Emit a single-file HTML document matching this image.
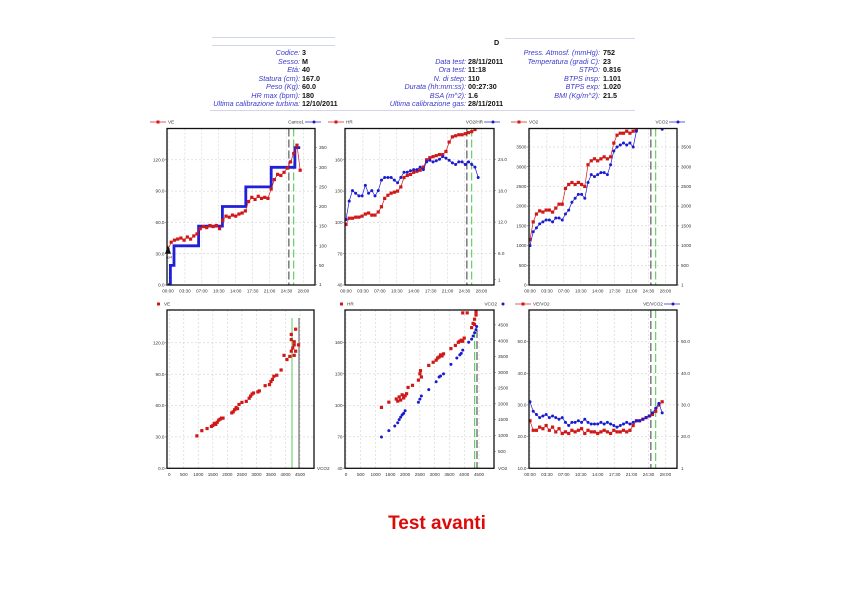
<!DOCTYPE html>
<html><head><meta charset="utf-8">
<style>
html,body{margin:0;padding:0;background:#fff;}
#wrap{position:relative;width:842px;height:595px;overflow:hidden;background:#fff;font-family:"Liberation Sans",sans-serif;}
.lab{position:absolute;font-size:7.2px;font-style:italic;color:#3a3acc;text-align:right;white-space:nowrap;line-height:8px;}
.val{position:absolute;font-size:7.2px;font-weight:bold;color:#111;white-space:nowrap;line-height:8px;}
.hl{position:absolute;height:1px;background:#d3d6ea;}
svg text{font-family:"Liberation Sans",sans-serif;}
</style></head>
<body>
<div id="wrap">
  <div class="hl" style="left:212px;top:37px;width:123px"></div>
  <div class="hl" style="left:212px;top:45px;width:123px"></div>
  <div class="hl" style="left:505px;top:38px;width:130px"></div>
  <div class="hl" style="left:210px;top:110px;width:425px"></div>
  <div class="val" style="left:494px;top:39px">D</div>

  <div class="lab" style="right:542px;top:49px">Codice:</div><div class="val" style="left:302px;top:49px">3</div>
  <div class="lab" style="right:542px;top:57.5px">Sesso:</div><div class="val" style="left:302px;top:57.5px">M</div>
  <div class="lab" style="right:542px;top:66px">Età:</div><div class="val" style="left:302px;top:66px">40</div>
  <div class="lab" style="right:542px;top:74.6px">Statura (cm):</div><div class="val" style="left:302px;top:74.6px">167.0</div>
  <div class="lab" style="right:542px;top:83.2px">Peso (Kg):</div><div class="val" style="left:302px;top:83.2px">60.0</div>
  <div class="lab" style="right:542px;top:91.7px">HR max (bpm):</div><div class="val" style="left:302px;top:91.7px">180</div>
  <div class="lab" style="right:542px;top:100.3px">Ultima calibrazione turbina:</div><div class="val" style="left:302px;top:100.3px">12/10/2011</div>

  <div class="lab" style="right:376px;top:57.5px">Data test:</div><div class="val" style="left:468px;top:57.5px">28/11/2011</div>
  <div class="lab" style="right:376px;top:66px">Ora test:</div><div class="val" style="left:468px;top:66px">11:18</div>
  <div class="lab" style="right:376px;top:74.6px">N. di step:</div><div class="val" style="left:468px;top:74.6px">110</div>
  <div class="lab" style="right:376px;top:83.2px">Durata (hh:mm:ss):</div><div class="val" style="left:468px;top:83.2px">00:27:30</div>
  <div class="lab" style="right:376px;top:91.7px">BSA (m^2):</div><div class="val" style="left:468px;top:91.7px">1.6</div>
  <div class="lab" style="right:376px;top:100.3px">Ultima calibrazione gas:</div><div class="val" style="left:468px;top:100.3px">28/11/2011</div>

  <div class="lab" style="right:242px;top:49px">Press. Atmosf. (mmHg):</div><div class="val" style="left:603px;top:49px">752</div>
  <div class="lab" style="right:242px;top:57.5px">Temperatura (gradi C):</div><div class="val" style="left:603px;top:57.5px">23</div>
  <div class="lab" style="right:242px;top:66px">STPD:</div><div class="val" style="left:603px;top:66px">0.816</div>
  <div class="lab" style="right:242px;top:74.6px">BTPS insp:</div><div class="val" style="left:603px;top:74.6px">1.101</div>
  <div class="lab" style="right:242px;top:83.2px">BTPS exp:</div><div class="val" style="left:603px;top:83.2px">1.020</div>
  <div class="lab" style="right:242px;top:91.7px">BMI (Kg/m^2):</div><div class="val" style="left:603px;top:91.7px">21.5</div>

  <svg id="charts" width="842" height="595" style="position:absolute;left:0;top:0"></svg>

  <div style="position:absolute;left:337px;width:200px;top:513px;text-align:center;font-size:19px;font-weight:bold;color:#dd0a0a;">Test avanti</div>
</div>

<script>
// ---------- data ----------
const timeTicks = ["00:00","03:30","07:00","10:30","14:00","17:30","21:00","24:30","28:00"];
const timeTickSec = [0,210,420,630,840,1050,1260,1470,1680];
const T = [0,40,80,120,160,200,240,280,320,360,400,440,480,520,560,600,640,680,720,760,800,840,880,920,960,1000,1040,1080,1120,1160,1200,1240,1280,1320,1360,1400,1440,1480,1520,1560,1600,1640];
const T3 = [0,40,80,120,160,200,240,280,320,360,400,440,480,520,560,600,640,680,720,760,800,840,880,920,960,1000,1040,1080,1120,1160,1200,1240,1280,1320];
const thresholdTimes = [1500,1560];

// Panel 1
const veTime = [34,41,43,44,45,43,46,44,47,49,54,56,55,57,56,57,54,62,66,65,67,66,68,69,71,80,84,82,85,83,84,83,92,101,106,105,108,112,118,126,134,110];
const loadTimes = [0,30,75,380,675,965,1280,1575,1640];
const loads = [1,50,100,150,200,250,300,350];
const p1LeftTicks = [0,30,60,90,120];
const p1LeftLabels = ["0.0","30.0","60.0","90.0","120.0"];
const p1RightTicks = [1,50,100,150,200,250,300,350];

// Panel 2
const hrTime = [98,104,104,105,105,106,108,109,107,107,110,115,123,126,128,129,130,134,143,145,146,148,149,150,153,160,162,163,164,165,165,168,177,182,183,184,184,185,186,187,189,191];
const o2pulse = [12.5,16,18,17.5,17,17,19,17.5,18,17,18,20,20.5,20.5,20.5,20,19.5,20.5,21.5,21.5,21.8,22,22,22.5,22,23.5,23.8,23.5,23.7,24,24.5,24.2,23.8,23.3,23,23.5,23.5,23,23.5,23,22.5,20.5];
const hrTicks = [40,70,100,130,160];
const o2pTicks = [1,6,12,18,24];
const o2pLabels = ["1","6.0","12.0","18.0","24.0"];

// Panel 3
const vo2Time = [1150,1600,1800,1880,1850,1900,1900,1850,1950,2050,2050,2450,2550,2600,2550,2600,2550,2500,3050,3150,3200,3150,3200,3250,3200,3250,3600,3800,3850,3850,3900,3850,3900,3950];
const vco2Time = [1000,1350,1450,1550,1600,1650,1650,1600,1700,1700,1650,1800,1900,2100,2200,2300,2300,2200,2600,2800,2750,2800,2850,2850,2800,3050,3400,3500,3550,3600,3550,3600,3500,3900];
const vco2TailTime = [1640];
const vco2TailVal = [3950];
const gasTicks = [0,500,1000,1500,2000,2500,3000,3500];
const gasRightLabels = ["1","500","1000","1500","2000","2500","3000","3500"];

// Panel 4
const p4Vco2 = [950,1120,1300,1450,1500,1550,1600,1650,1700,1750,1800,1850,2150,2200,2250,2300,2350,2400,2500,2650,2750,2800,2850,2900,3050,3100,3300,3450,3500,3550,3600,3700,3850,3950,4050,4150,4200,4250,4300,4200,4300,4350,4200,4450,4300,4350];
const p4Ve = [31,36,38,40,41,43,42,44,46,47,48,48,53,54,56,58,57,61,63,64,67,69,71,72,73,74,79,80,83,85,88,89,94,108,104,107,112,115,118,123,121,133,128,118,108,112];
const xGasTicks = [0,500,1000,1500,2000,2500,3000,3500,4000,4500];
const p4Thresholds = [4225,4466];

// Panel 5
const p5Vo2Hr = [1200,1450,1700,1750,1800,1850,1900,1950,2000,2050,2100,2250,2450,2500,2520,2550,2800,2950,3050,3100,3150,3200,3250,3300,3550,3700,3800,3850,3900,3950,4000,3950,4100,4250,4300,4350,4400,4400,4350];
const p5Hr = [98,103,106,104,108,105,110,107,109,111,117,119,124,130,133,127,138,141,143,145,146,148,147,149,154,157,160,161,162,161,164,188,188,174,178,182,186,189,177];
const p5Vo2C = [1200,1450,1650,1750,1800,1850,1900,1950,2000,2450,2500,2550,2800,3050,3150,3200,3300,3550,3750,3850,3900,3950,4150,4250,4300,4350,4400,4420];
const p5Vco2 = [950,1150,1300,1400,1500,1580,1650,1700,1780,2050,2150,2250,2450,2700,2850,2880,2950,3250,3450,3550,3600,3700,3950,4050,4150,4250,4350,4450];
const p5RightTicks = [500,1000,1500,2000,2500,3000,3500,4000,4500];
const p5Thresholds = [4354,4432];

// Panel 6
const veVo2 = [25,22,22,23,22.5,23.5,22,23,21.5,22.5,21,21.5,21,22,21.5,22,22.5,21,22,21.5,21.5,21,21.5,22,21.5,21,22,21.5,21.5,22,21.5,22,23.5,25,25,25.5,26,26.5,27,28,30,31];
const veVco2 = [31,28,27,26,26.5,27,26,26.5,26,25.5,26,24.5,23.5,24.5,24.5,25,24.5,25.5,24.5,24,24,24,24.5,24,24.5,24,23.5,23,23.5,24,24.5,24,24.5,25,25,25.5,26,26.5,27.5,29,30.5,27.5];
const eqTicks = [10,20,30,40,50];
const eqLabels = ["10.0","20.0","30.0","40.0","50.0"];

// ---------- drawing ----------
const NS = "http://www.w3.org/2000/svg";
const svg = document.getElementById("charts");
const RED = "#d01818", BLUE = "#1a1ad0";
function mk(tag, attrs, parent){ const e=document.createElementNS(NS,tag); for(const k in attrs) e.setAttribute(k,attrs[k]); (parent||svg).appendChild(e); return e; }
function txt(x,y,s,anchor,parent,size,col){ const t=mk("text",{x:x,y:y,"font-size":size||4.6,"text-anchor":anchor||"start",fill:col||"#333"},parent); t.textContent=s; return t; }
function lin(x0,x1,d0,d1){ return v => x0+(v-d0)*(x1-x0)/(d1-d0); }

let clipN=0;
function panel(name, box){
  const g = mk("g",{});
  
  
  const id="clip"+(clipN++);
  const cp = mk("clipPath",{id:id},g);
  mk("rect",{x:box.x0,y:box.y0,width:box.x1-box.x0,height:box.y1-box.y0},cp);
  const inner = mk("g",{"clip-path":"url(#"+id+")"},g);
  return {g:g, inner:inner};
}
function grid(p, box, xs, ys){
  xs.forEach(x=>{ const l=mk("line",{x1:x,x2:x,y1:box.y0,y2:box.y1,stroke:"#c8c8c8","stroke-width":0.5,"stroke-dasharray":"2,2"},p.inner);
      });
  ys.forEach(y=>{ const l=mk("line",{x1:box.x0,x2:box.x1,y1:y,y2:y,stroke:"#c8c8c8","stroke-width":0.5,"stroke-dasharray":"2,2"},p.inner);
      });
}
function frame(p, box){
  const r=mk("rect",{x:box.x0,y:box.y0,width:box.x1-box.x0,height:box.y1-box.y0,fill:"none",stroke:"#111","stroke-width":1.3},p.g);
   
}
function vlines(p, box, xs){
  const cols=["#222","#30c030"];
  xs.forEach((x,i)=>{ const l=mk("line",{x1:x,x2:x,y1:box.y0,y2:box.y1,stroke:cols[i],"stroke-width":0.9,"stroke-dasharray":"8,3"},p.inner);
      });
}
function seriesLine(p, xs, ys, sx, sy, col, name){
  const pts = xs.map((v,i)=>sx(v).toFixed(1)+","+sy(ys[i]).toFixed(1)).join(" ");
  const l=mk("polyline",{points:pts,fill:"none",stroke:col,"stroke-width":0.7},p.inner);
   
}
function marks(p, xs, ys, sx, sy, col, shape, name){
  xs.forEach((v,i)=>{
    const x=sx(v), y=sy(ys[i]); let m;
    if(shape==="sq") m=mk("rect",{x:x-1.6,y:y-1.6,width:3.2,height:3.2,fill:col},p.inner);
    else m=mk("circle",{cx:x,cy:y,r:1.5,fill:col},p.inner);
    
    
  });
}
function legendLeft(x,y,label,withLine){
  const g=mk("g",{});
  
  
  if(withLine) mk("line",{x1:x,x2:x+16,y1:y,y2:y,stroke:RED,"stroke-width":0.7},g);
  mk("rect",{x:x+(withLine?6.5:0),y:y-1.5,width:3,height:3,fill:RED},g);
  txt(x+(withLine?18:7),y+1.6,label,"start",g);
}
function legendRight(x,y,label,withLine){
  const g=mk("g",{});
  
  
  txt(x,y+1.6,label,"end",g);
  if(withLine) mk("line",{x1:x+1,x2:x+17,y1:y,y2:y,stroke:BLUE,"stroke-width":0.7},g);
  mk("circle",{cx:x+(withLine?10:6),cy:y,r:1.5,fill:BLUE},g);
}
function timeAxis(box, sx){
  timeTicks.forEach((s,i)=>{ const t=txt(sx(timeTickSec[i]),box.y1+7.5,s,"middle");
      });
}
function leftAxis(box, ticks, labels, sy){
  ticks.forEach((v,i)=>{ const y=sy(v); mk("line",{x1:box.x0-2,x2:box.x0,y1:y,y2:y,stroke:"#555","stroke-width":0.5});
    const t=txt(box.x0-2.5,y+1.6,labels[i],"end");   });
}
function rightAxis(box, ticks, labels, sy){
  ticks.forEach((v,i)=>{ const y=sy(v); mk("line",{x1:box.x1,x2:box.x1+2,y1:y,y2:y,stroke:"#555","stroke-width":0.5});
    const t=txt(box.x1+4,y+1.6,labels[i],"start");   });
}

// ---- Panel 1
(function(){
  const box={x0:167,x1:315,y0:128.5,y1:285};
  const sx=lin(box.x0+1,box.x0+1+135.4,0,1680), sy=lin(box.y1,box.y1-156.5,0,150), sy2=lin(box.y1,box.y1-157,0,400);
  const p=panel("chart-ve-carico",box);
  grid(p,box,timeTickSec.map(sx),p1LeftTicks.map(sy));
  vlines(p,box,thresholdTimes.map(sx));
  let pts=[];
  loads.forEach((v,i)=>{ pts.push(sx(loadTimes[i]).toFixed(1)+","+sy2(v).toFixed(1)); pts.push(sx(loadTimes[i+1]).toFixed(1)+","+sy2(v).toFixed(1)); });
  const pl=mk("polyline",{points:pts.join(" "),fill:"none",stroke:"#2020d8","stroke-width":2.8},p.inner);
   
  seriesLine(p,T,veTime,sx,sy,RED,"ve");
  marks(p,T,veTime,sx,sy,RED,"sq","ve");
  const tri=mk("polygon",{points:[sx(0),sy(34)-4,sx(0)-3,sy(30),sx(0)+3,sy(30)].join(","),fill:"#111"},p.g);
   
  txt(sx(0)+1,sy(30)+5,"Ax4","middle",p.g,3.5);
  frame(p,box);
  leftAxis(box,p1LeftTicks,p1LeftLabels,sy);
  rightAxis(box,p1RightTicks,p1RightTicks.map(String),sy2);
  timeAxis(box,sx);
  legendLeft(150,122,"VE",true);
  legendRight(304,122,"Carico1",true);
})();

// ---- Panel 2
(function(){
  const box={x0:345,x1:494,y0:128.5,y1:285};
  const sx=lin(box.x0+1,box.x0+1+135.4,0,1680), sy=lin(box.y1,box.y1-156.5,40,190), sy2=lin(box.y1,box.y1-125.8,0,24);
  const p=panel("chart-hr-o2pulse",box);
  grid(p,box,timeTickSec.map(sx),hrTicks.map(sy));
  vlines(p,box,thresholdTimes.map(sx));
  seriesLine(p,T,hrTime,sx,sy,RED,"hr"); marks(p,T,hrTime,sx,sy,RED,"sq","hr");
  seriesLine(p,T,o2pulse,sx,sy2,BLUE,"o2pulse"); marks(p,T,o2pulse,sx,sy2,BLUE,"ci","o2pulse");
  frame(p,box);
  leftAxis(box,hrTicks,hrTicks.map(String),sy);
  rightAxis(box,o2pTicks,o2pLabels,sy2);
  timeAxis(box,sx);
  legendLeft(328,122,"HR",true);
  legendRight(483,122,"VO2/HR",true);
})();

// ---- Panel 3
(function(){
  const box={x0:529,x1:677,y0:128.5,y1:285};
  const sx=lin(box.x0+1,box.x0+1+135.4,0,1680), sy=lin(box.y1,box.y1-138,0,3500);
  const p=panel("chart-vo2-vco2",box);
  grid(p,box,timeTickSec.map(sx),gasTicks.map(sy));
  vlines(p,box,thresholdTimes.map(sx));
  seriesLine(p,T3,vo2Time,sx,sy,RED,"vo2"); marks(p,T3,vo2Time,sx,sy,RED,"sq","vo2");
  seriesLine(p,T3,vco2Time,sx,sy,BLUE,"vco2"); marks(p,T3,vco2Time,sx,sy,BLUE,"ci","vco2");
  marks(p,vco2TailTime,vco2TailVal,sx,sy,BLUE,"ci","vco2-tail");
  frame(p,box);
  leftAxis(box,gasTicks,gasTicks.map(String),sy);
  rightAxis(box,gasTicks,gasRightLabels,sy);
  timeAxis(box,sx);
  legendLeft(511,122,"VO2",true);
  legendRight(668,122,"VCO2",true);
})();

// ---- Panel 4
(function(){
  const box={x0:167,x1:314,y0:310,y1:468.3};
  const sx=lin(169.3,300,0,4500), sy=lin(box.y1,box.y1-125.5,0,120);
  const p=panel("chart-ve-vs-vco2",box);
  grid(p,box,xGasTicks.map(sx),p1LeftTicks.map(sy));
  const cols=["#30c030","#222"];
  p4Thresholds.forEach((v,i)=>{ const l=mk("line",{x1:sx(v),x2:sx(v),y1:box.y0+8,y2:box.y1,stroke:cols[i],"stroke-width":0.8},p.inner);
      });
  marks(p,p4Vco2,p4Ve,sx,sy,RED,"sq","ve");
  frame(p,box);
  leftAxis(box,p1LeftTicks,p1LeftLabels,sy);
  xGasTicks.forEach(v=>{ const t=txt(sx(v),box.y1+7.5,String(v),"middle");   });
  txt(box.x1+3,box.y1+1.5,"VCO2","start");
  legendLeft(157,304,"VE",false);
})();

// ---- Panel 5
(function(){
  const box={x0:345,x1:494,y0:310,y1:468.3};
  const sx=lin(346,479,0,4500), sy=lin(box.y1,box.y1-126,40,160), sy2=lin(467,467-142.1,0,4500);
  const p=panel("chart-hr-vco2-vs-vo2",box);
  grid(p,box,xGasTicks.map(sx),hrTicks.map(sy));
  const cols=["#30c030","#222"];
  p5Thresholds.forEach((v,i)=>{ const l=mk("line",{x1:sx(v),x2:sx(v),y1:box.y0+20,y2:box.y1,stroke:cols[i],"stroke-width":0.9,"stroke-dasharray":"8,3"},p.inner);
      });
  marks(p,p5Vo2Hr,p5Hr,sx,sy,RED,"sq","hr");
  marks(p,p5Vo2C,p5Vco2,sx,sy2,BLUE,"ci","vco2");
  frame(p,box);
  leftAxis(box,hrTicks,hrTicks.map(String),sy);
  rightAxis(box,p5RightTicks,p5RightTicks.map(String),sy2);
  txt(box.x1+4,box.y1+1.5,"VO2","start");
  xGasTicks.forEach(v=>{ const t=txt(sx(v),box.y1+7.5,String(v),"middle");   });
  legendLeft(340,304,"HR",false);
  legendRight(497,304,"VCO2",false);
})();

// ---- Panel 6
(function(){
  const box={x0:529,x1:677,y0:310,y1:468.3};
  const sx=lin(box.x0+1,box.x0+1+135.4,0,1680), sy=lin(box.y1,box.y1-126.7,10,50);
  const p=panel("chart-ventilatory-equivalents",box);
  grid(p,box,timeTickSec.map(sx),eqTicks.map(sy));
  vlines(p,box,thresholdTimes.map(sx));
  seriesLine(p,T,veVo2,sx,sy,RED,"ve-vo2"); marks(p,T,veVo2,sx,sy,RED,"sq","ve-vo2");
  seriesLine(p,T,veVco2,sx,sy,BLUE,"ve-vco2"); marks(p,T,veVco2,sx,sy,BLUE,"ci","ve-vco2");
  frame(p,box);
  leftAxis(box,eqTicks,eqLabels,sy);
  rightAxis(box,eqTicks.slice(1),eqLabels.slice(1),sy);
  txt(box.x1+4,box.y1+1.5,"1","start");
  timeAxis(box,sx);
  legendLeft(515,304,"VE/VO2",true);
  legendRight(663,304,"VE/VCO2",true);
})();
</script>
</body></html>
